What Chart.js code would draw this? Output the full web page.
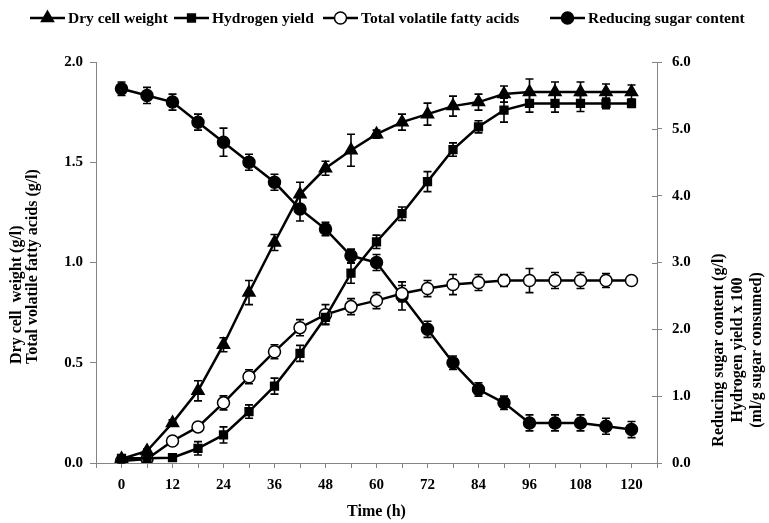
<!DOCTYPE html>
<html>
<head>
<meta charset="utf-8">
<script src="https://cdn.jsdelivr.net/npm/chart.js@4.4.0/dist/chart.umd.min.js"></script>
<style>
  html, body { margin: 0; padding: 0; background: #fff; }
  #wrap { width: 769px; height: 523px; }
</style>
</head>
<body>
<div id="wrap"><canvas id="c" width="769" height="523"></canvas></div>
<script>
// Fermentation time course: two y axes (g/l on the left, sugar / H2 yield on the right)
const hours = [0, 6, 12, 18, 24, 30, 36, 42, 48, 54, 60, 66, 72, 78, 84, 90, 96, 102, 108, 114, 120];

const dryCellWeight = [0.02, 0.06, 0.20, 0.36, 0.59, 0.85, 1.10, 1.34, 1.47, 1.56, 1.64, 1.70, 1.74, 1.78, 1.80, 1.84, 1.85, 1.85, 1.85, 1.85, 1.85];
const dryCellErr    = [0.01, 0.01, 0.015, 0.05, 0.035, 0.06, 0.04, 0.06, 0.035, 0.08, 0.02, 0.04, 0.055, 0.05, 0.04, 0.04, 0.065, 0.05, 0.05, 0.04, 0.035];

const hydrogenYield = [0.07, 0.07, 0.08, 0.22, 0.42, 0.77, 1.15, 1.64, 2.18, 2.84, 3.31, 3.73, 4.21, 4.69, 5.03, 5.28, 5.38, 5.38, 5.38, 5.38, 5.38];
const hydrogenErr   = [0.03, 0.03, 0.04, 0.10, 0.12, 0.10, 0.12, 0.12, 0.10, 0.15, 0.10, 0.10, 0.15, 0.10, 0.09, 0.18, 0.13, 0.13, 0.12, 0.08, 0.06];

const totalVfa = [0.01, 0.02, 0.11, 0.18, 0.30, 0.43, 0.555, 0.675, 0.74, 0.78, 0.81, 0.845, 0.87, 0.89, 0.90, 0.91, 0.91, 0.91, 0.91, 0.91, 0.91];
const totalVfaErr = [0.01, 0.01, 0.015, 0.015, 0.035, 0.035, 0.035, 0.04, 0.05, 0.04, 0.04, 0.04, 0.04, 0.05, 0.04, 0.03, 0.06, 0.04, 0.04, 0.035, 0.02];

const reducingSugar = [5.6, 5.5, 5.4, 5.1, 4.8, 4.5, 4.2, 3.8, 3.5, 3.1, 3.0, 2.5, 2.0, 1.5, 1.1, 0.9, 0.6, 0.6, 0.6, 0.55, 0.5];
const reducingSugarErr = [0.10, 0.12, 0.12, 0.12, 0.21, 0.12, 0.12, 0.18, 0.10, 0.10, 0.12, 0.21, 0.12, 0.10, 0.10, 0.10, 0.12, 0.12, 0.12, 0.12, 0.12];

const leftTicks = [0, 0.5, 1.0, 1.5, 2.0];
const rightTicks = [0, 1, 2, 3, 4, 5, 6];
const xLabelHours = [0, 12, 24, 36, 48, 60, 72, 84, 96, 108, 120];

const SERIF = "'Liberation Serif', 'Times New Roman', serif";
const AXIS = '#858585';

const pts = (vals) => vals.map((v, i) => ({ x: hours[i], y: v }));

function series(label, vals, errs, axis, style, radius, fill) {
  return {
    label, data: pts(vals), errors: errs, yAxisID: axis,
    borderColor: '#000', borderWidth: 2.5, tension: 0,
    pointStyle: style, pointRadius: radius, pointHoverRadius: radius,
    pointBackgroundColor: fill, pointBorderColor: '#000', pointBorderWidth: 1.5,
  };
}

const datasets = [
  series('Dry cell weight', dryCellWeight, dryCellErr, 'yL', 'triangle', 7, '#000'),
  series('Hydrogen yield', hydrogenYield, hydrogenErr, 'yR', 'rect', 5.5, '#000'),
  series('Total volatile fatty acids', totalVfa, totalVfaErr, 'yL', 'circle', 6, '#fff'),
  series('Reducing sugar content', reducingSugar, reducingSugarErr, 'yR', 'circle', 6, '#000'),
];

// error bars, drawn under the markers
const errorBars = {
  id: 'errorBars',
  beforeDatasetsDraw(chart) {
    const ctx = chart.ctx;
    ctx.save();
    ctx.strokeStyle = '#000';
    ctx.lineWidth = 1.6;
    chart.data.datasets.forEach((ds) => {
      const ys = chart.scales[ds.yAxisID];
      const xs = chart.scales.x;
      ds.data.forEach((p, i) => {
        const e = ds.errors[i];
        const px = xs.getPixelForValue(p.x);
        const top = ys.getPixelForValue(p.y + e);
        const bot = ys.getPixelForValue(Math.max(0, p.y - e));
        ctx.beginPath();
        ctx.moveTo(px, top); ctx.lineTo(px, bot);
        ctx.moveTo(px - 4, top); ctx.lineTo(px + 4, top);
        ctx.moveTo(px - 4, bot); ctx.lineTo(px + 4, bot);
        ctx.stroke();
      });
    });
    ctx.restore();
  },
};

// legend row, axis titles, inner half of right-axis ticks
const decor = {
  id: 'decor',
  afterDraw(chart) {
    const ctx = chart.ctx;
    const area = chart.chartArea;
    ctx.save();

    const yr = chart.scales.yR;
    ctx.strokeStyle = AXIS; ctx.lineWidth = 1;
    rightTicks.forEach((v) => {
      const y = Math.round(yr.getPixelForValue(v)) + 0.5;
      ctx.beginPath(); ctx.moveTo(area.right - 5, y); ctx.lineTo(area.right, y); ctx.stroke();
    });

    ctx.fillStyle = '#000';
    ctx.font = `bold 15.5px ${SERIF}`;
    ctx.textBaseline = 'middle';
    const legendX = [30, 174, 323, 550];
    const ly = 18;
    chart.data.datasets.forEach((ds, i) => {
      const x0 = legendX[i];
      ctx.strokeStyle = '#000'; ctx.lineWidth = 2.5;
      ctx.beginPath(); ctx.moveTo(x0, ly); ctx.lineTo(x0 + 35, ly); ctx.stroke();
      ctx.fillStyle = ds.pointBackgroundColor; ctx.lineWidth = 1.5;
      Chart.helpers.drawPoint(ctx, { pointStyle: ds.pointStyle, radius: ds.pointRadius, rotation: 0, borderWidth: 1.5 }, x0 + 17.5, ly);
      ctx.fillStyle = '#000';
      ctx.textAlign = 'left';
      ctx.fillText(ds.label, x0 + 38, ly + 1);
    });

    ctx.font = `bold 16px ${SERIF}`;
    ctx.save();
    ctx.translate(17, 364); ctx.rotate(-Math.PI / 2);
    ctx.textAlign = 'left';
    ctx.fillText('Dry cell  weight (g/l)', 0, 0);
    ctx.fillText('Total volatile fatty acids (g/l)', 0, 16);
    ctx.restore();

    ctx.save();
    ctx.translate(719, 350); ctx.rotate(-Math.PI / 2);
    ctx.textAlign = 'center';
    ctx.fillText('Reducing sugar content (g/l)', 0, 0);
    ctx.fillText('Hydrogen yield x 100', 0, 19);
    ctx.fillText('(ml/g sugar consumed)', 0, 38);
    ctx.restore();

    ctx.textAlign = 'center';
    ctx.fillText('Time (h)', chart.scales.x.getPixelForValue(60), 512);
    ctx.restore();
  },
};

const tickFont = { family: SERIF, size: 15, weight: 'bold' };

new Chart(document.getElementById('c'), {
  type: 'line',
  data: { datasets },
  plugins: [errorBars, decor],
  options: {
    responsive: false,
    animation: false,
    layout: { padding: { top: 62, left: 0, right: 0, bottom: 0 } },
    plugins: { legend: { display: false }, tooltip: { enabled: false } },
    scales: {
      x: {
        type: 'linear', min: -6, max: 126,
        afterFit: (s) => { s.height = 60; },
        ticks: {
          stepSize: 6, autoSkip: false, maxRotation: 0, padding: 8, color: '#000', font: tickFont,
          callback: (v) => (xLabelHours.includes(v) ? String(v) : ''),
        },
        grid: { drawOnChartArea: false, tickLength: 5, color: AXIS },
        border: { color: AXIS },
      },
      yL: {
        position: 'left', min: 0, max: 2,
        afterFit: (s) => { s.width = 96; },
        afterBuildTicks: (s) => { s.ticks = leftTicks.map((v) => ({ value: v })); },
        ticks: { padding: 7, color: '#000', font: tickFont, callback: (v) => Number(v).toFixed(1) },
        grid: { drawOnChartArea: false, tickLength: 6, color: AXIS },
        border: { color: AXIS },
      },
      yR: {
        position: 'right', min: 0, max: 6,
        afterFit: (s) => { s.width = 112; },
        afterBuildTicks: (s) => { s.ticks = rightTicks.map((v) => ({ value: v })); },
        ticks: { padding: 10, color: '#000', font: tickFont, callback: (v) => Number(v).toFixed(1) },
        grid: { drawOnChartArea: false, tickLength: 5, color: AXIS },
        border: { color: AXIS },
      },
    },
  },
});
</script>
</body>
</html>
